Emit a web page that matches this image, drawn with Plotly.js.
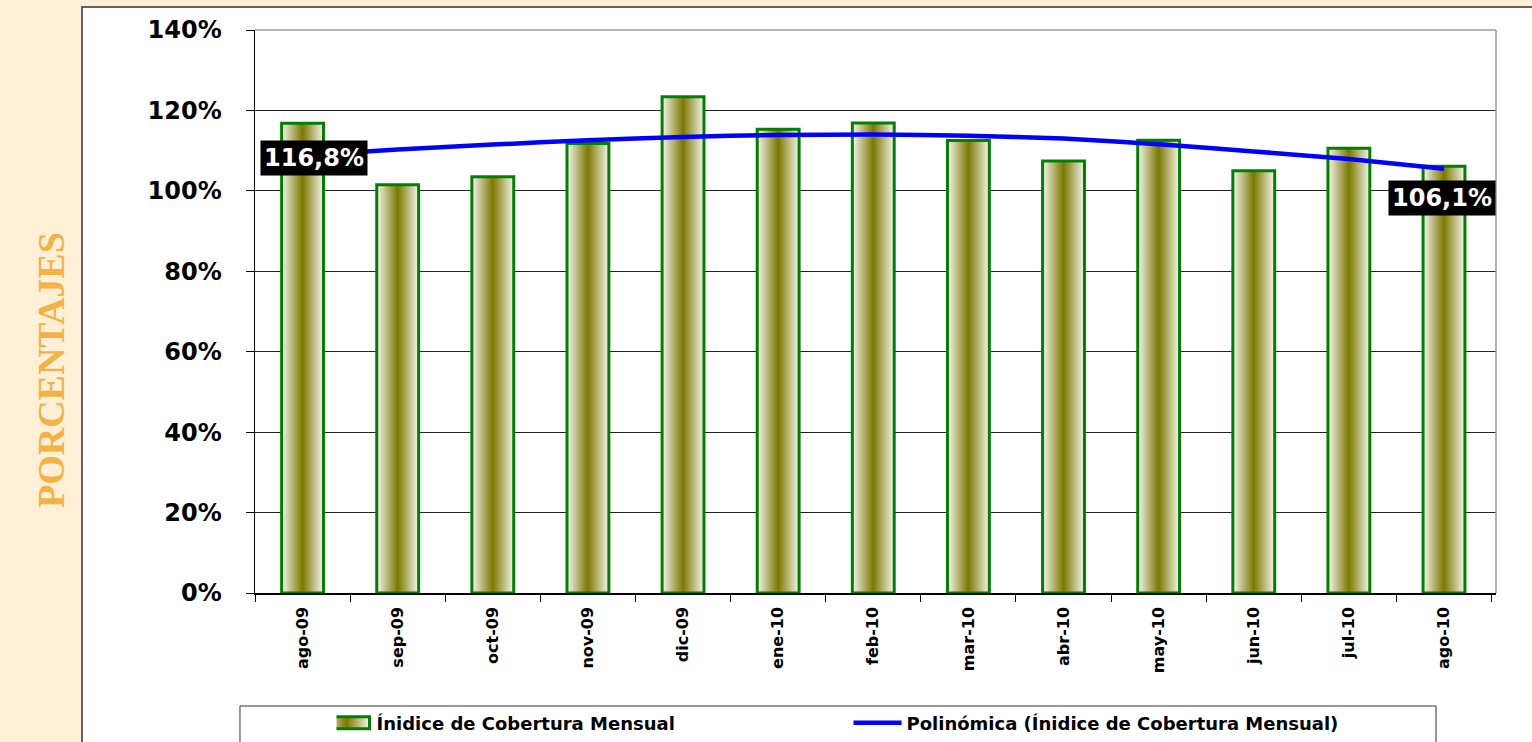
<!DOCTYPE html>
<html><head><meta charset="utf-8">
<script src="https://cdn.plot.ly/plotly-3.0.1.min.js"></script>
<style>html,body{margin:0;padding:0;background:#FFEFD6;overflow:hidden}</style>
</head><body>
<svg width="0" height="0" style="position:absolute"><defs>
<linearGradient id="oliveGrad" x1="0" y1="0" x2="1" y2="0">
<stop offset="0" stop-color="#F6F6F0"/><stop offset="0.5" stop-color="#7C7800"/><stop offset="1" stop-color="#F6F6F0"/>
</linearGradient></defs></svg>
<div id="chart" style="width:1532px;height:742px"></div>
<script>
const months = ['ago-09','sep-09','oct-09','nov-09','dic-09','ene-10','feb-10','mar-10','abr-10','may-10','jun-10','jul-10','ago-10'];
const coverage = [116.8, 101.5, 103.5, 111.8, 123.4, 115.3, 116.9, 112.5, 107.4, 112.6, 105.0, 110.6, 106.1];
const trend = [108.8, 110.3, 111.5, 112.6, 113.4, 113.9, 114.0, 113.7, 113.0, 111.6, 109.8, 107.9, 105.5];
const barName = 'Ínidice de Cobertura Mensual';
const trendName = 'Polinómica (Ínidice de Cobertura Mensual)';
const yTicks = [0, 20, 40, 60, 80, 100, 120, 140];
const yTickText = yTicks.map(v => v + '%');

const fmt = v => v.toFixed(1).replace('.', ',') + '%';
const last = months.length - 1;

const data = [
  {type:'bar', x: months, y: coverage, name: barName, width: 0.44,
   marker:{color:'#A09A40', line:{color:'#008000', width:3}}, hoverinfo:'skip'},
  {type:'scatter', mode:'lines', x: months, y: trend, name: trendName,
   line:{color:'#0000FF', width:4.5, shape:'spline', smoothing:0.6}, hoverinfo:'skip'}
];

const labelFont = {family:'DejaVu Sans', size:24, color:'#FFFFFF', weight:'bold'};
const layout = {
  width:1532, height:742,
  margin:{l:255, r:36, t:30, b:149},
  paper_bgcolor:'#FFEFD6', plot_bgcolor:'#FFFFFF',
  showlegend:true,
  xaxis:{type:'category', automargin:false, showline:true, linecolor:'#000', linewidth:1.5,
    ticks:'outside', ticklen:7, tickcolor:'#000', tickson:'boundaries',
    tickangle:-90, showgrid:false, ticklabelstandoff:6,
    tickfont:{family:'DejaVu Sans', size:16, color:'#000', weight:'bold'}},
  yaxis:{range:[0,140], automargin:false, tickvals:yTicks, ticktext:yTickText, showline:true, linecolor:'#000', linewidth:1.5,
    ticks:'outside', ticklen:8, tickcolor:'#000', showgrid:true, gridcolor:'#222', gridwidth:1,
    zeroline:false, ticklabelstandoff:19,
    tickfont:{family:'DejaVu Sans', size:24, color:'#000', weight:'bold'}},
  legend:{orientation:'h', x:0.0657, xanchor:'left', yref:'container', y:0.0256, yanchor:'middle',
    bgcolor:'rgba(0,0,0,0)', entrywidth:485, entrywidthmode:'pixels',
    font:{family:'DejaVu Sans', size:18, color:'#000', weight:'bold'}},
  shapes:[
    {type:'rect', xref:'paper', yref:'paper', x0:-0.1394, x1:1.2, y0:-0.5, y1:1.0409,
     fillcolor:'#FFFFFF', line:{color:'#333', width:1.5}, layer:'below'},
    {type:'rect', xref:'paper', yref:'paper', x0:-0.0121, x1:0.9517, y0:-0.5, y1:-0.2007,
     fillcolor:'#FFFFFF', line:{color:'#333', width:1}, layer:'below'},
    {type:'line', xref:'paper', yref:'paper', x0:0, x1:1, y0:1, y1:1, line:{color:'#9A9A9A', width:1.5}, layer:'above'},
    {type:'line', xref:'paper', yref:'paper', x0:1, x1:1, y0:0, y1:1, line:{color:'#9A9A9A', width:1.5}, layer:'above'}
  ],
  annotations:[
    {text:'PORCENTAJES', xref:'paper', yref:'paper', x:-0.1829, y:0.396, textangle:-90,
     showarrow:false, font:{family:'Liberation Serif', size:38, color:'#F2B244', weight:'bold'}},
    {text: fmt(coverage[0]), x: months[0], y: coverage[0], xref:'x', yref:'y',
     showarrow:false, xanchor:'center', yanchor:'top', xshift:11, yshift:-17,
     bgcolor:'#000', borderpad:3, font:labelFont},
    {text: fmt(coverage[last]), x: months[last], y: coverage[last], xref:'x', yref:'y',
     showarrow:false, xanchor:'center', yanchor:'top', xshift:-2, yshift:-14,
     bgcolor:'#000', borderpad:3, font:labelFont}
  ]
};

Plotly.newPlot('chart', data, layout, {displayModeBar:false, staticPlot:true}).then(gd => {
  gd.querySelectorAll('.barlayer .point path').forEach(p => { p.style.fill = 'url(#oliveGrad)'; });
  const traces = gd.querySelectorAll('.legend .traces');
  if (traces[0]) {
    traces[0].querySelectorAll('.legendpoints path').forEach(p => {
      p.style.fill = 'url(#oliveGrad)';
      p.setAttribute('d', 'M-33,6H13V-6H-33Z');
    });
  }
  if (traces[1]) {
    traces[1].querySelectorAll('.legendpoints path.js-line, .legendlines path').forEach(p => {
      p.setAttribute('d', 'M-13,0h48');
    });
  }
});
</script>
</body></html>
